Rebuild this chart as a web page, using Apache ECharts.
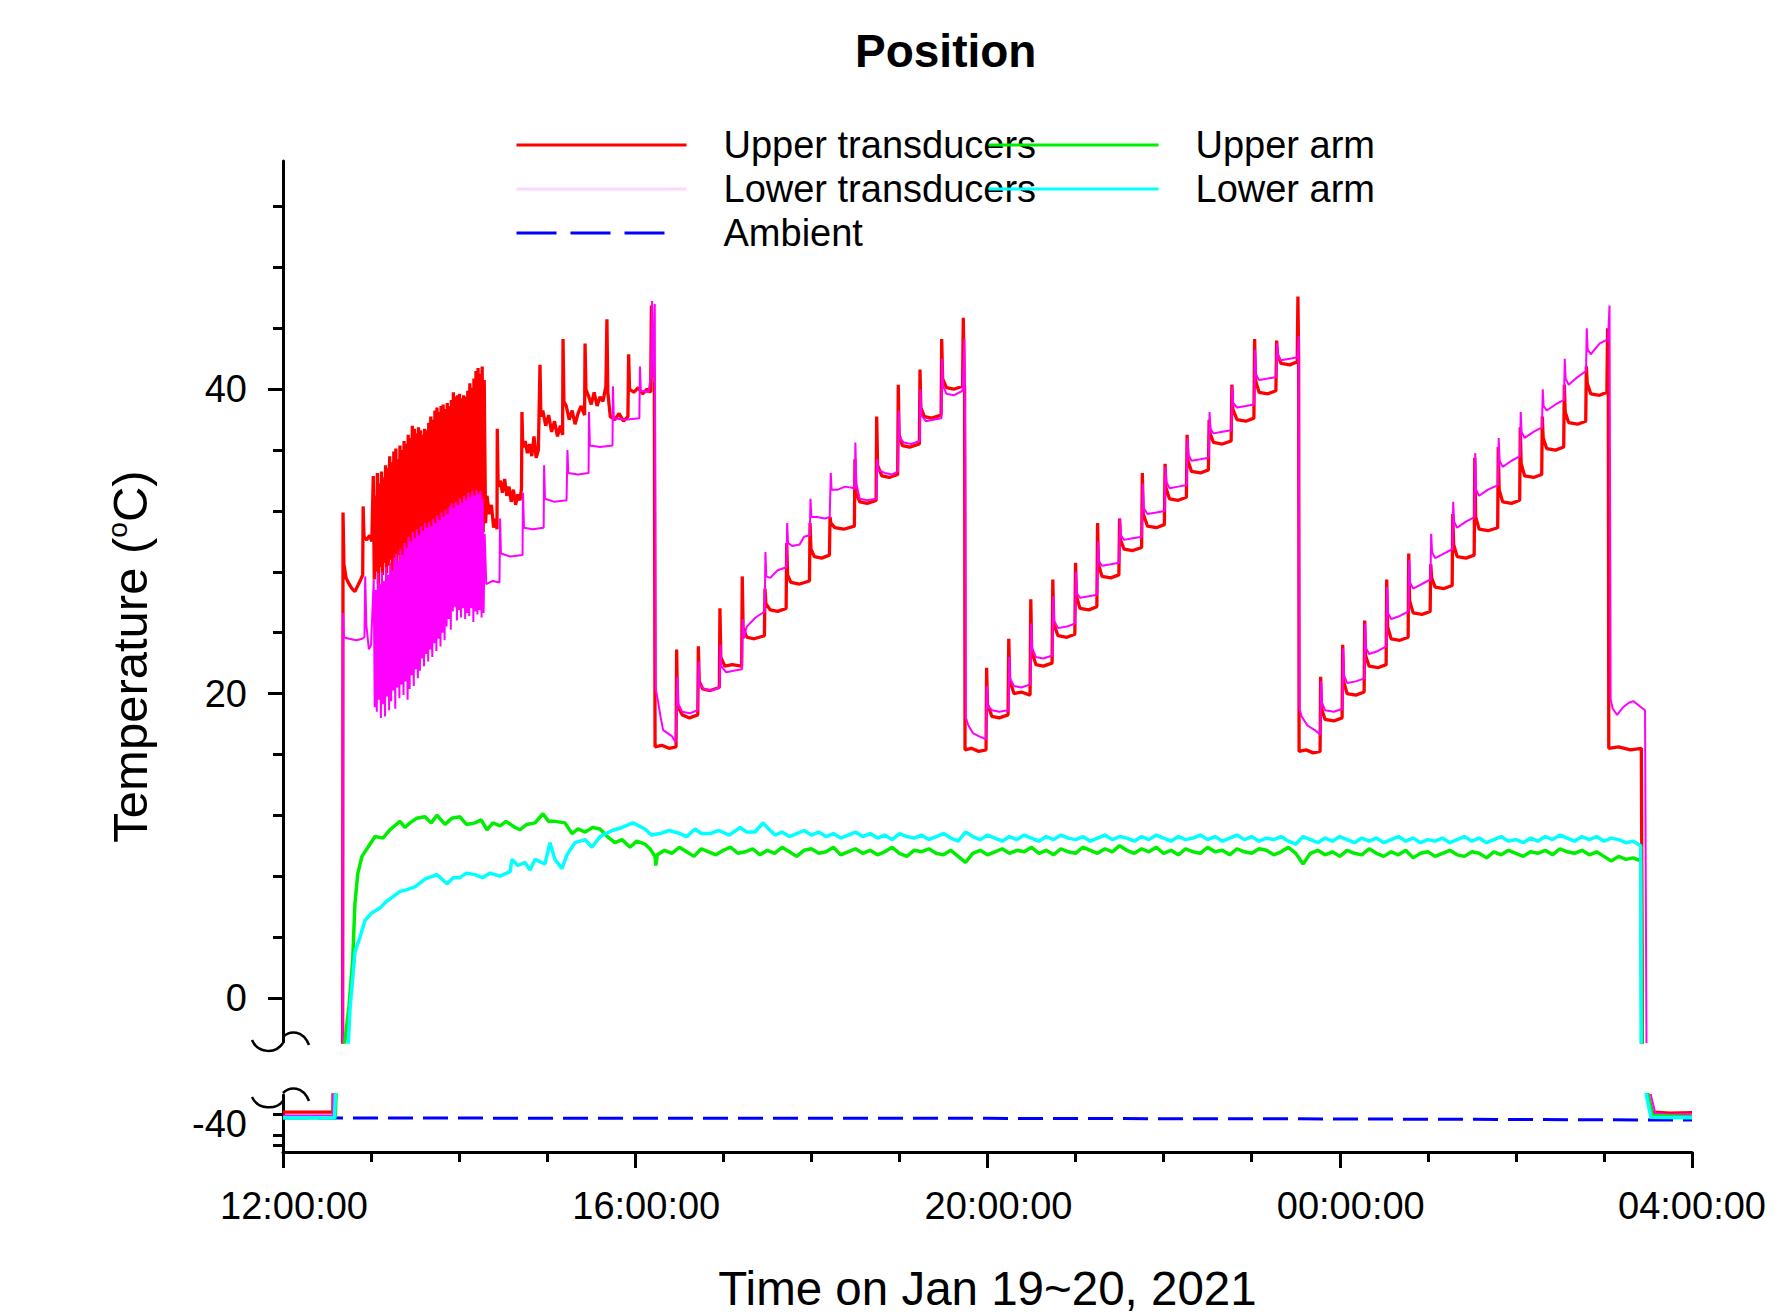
<!DOCTYPE html>
<html>
<head>
<meta charset="utf-8">
<script src="https://cdn.jsdelivr.net/npm/echarts@6/dist/echarts.min.js"></script>
<style>
  html, body { margin: 0; padding: 0; background: #fff; }
  #chart { width: 1775px; height: 1315px; }
</style>
</head>
<body>
<div id="chart"></div>
<script>
(function() {
  // time is in minutes after 12:00 on Jan 19
  var xTickLabels = ['12:00:00', '16:00:00', '20:00:00', '00:00:00', '04:00:00'];
  var upperMajorTicks = [0, 20, 40];
  var upperMinorTicks = [4, 8, 12, 16, 24, 28, 32, 36, 44, 48, 52];
  var lowerLabelTicks = [-40];
  var lowerMinorTicks = [-38.4, -42, -43.8];

  // --- Upper transducers ---
  var upperTransStart = [[0,-38.0],[20,-38.0],[34,-38.0],[34.5,-10],[40.6,-10],[40.9,31.9],[41.5,28.5],[43,27.6],[45,27.2],[47,26.9],[49,26.7],[51,27.1],[53,27.5],[54.3,27.8],[54.6,32.3],[55.2,30.3],[57,30.1],[59,30.4],[60.5,30.0]];
  var upperTransBand = [[61.5,34.3],[62.2,27.5],[62.9,33.0],[63.6,28.0],[64.3,34.5],[65,27.2],[65.7,33.8],[66.4,28.3],[67.1,34.6],[67.8,27.8],[68.5,34.2],[69.2,28.6],[69.9,35.0],[70.6,27.9],[71.3,34.8],[72,28.4],[72.7,35.6],[73.4,28.8],[74.1,35.2],[74.8,27.4],[75.5,35.9],[76.2,28.9],[76.9,36.1],[77.6,28.2],[78.3,35.4],[79,29.1],[79.7,36.3],[80.4,26.4],[81.1,36.0],[81.8,28.7],[82.5,36.6],[83.2,29.3],[83.9,36.4],[84.6,28.5],[85.3,37.0],[86,29.4],[86.7,36.8],[87.4,28.9],[88.1,37.6],[88.8,29.6],[89.5,37.4],[90.2,29.0],[90.9,37.1],[91.6,29.8],[92.3,37.5],[93,29.2],[93.7,37.3],[94.4,30.0],[95.1,37.0],[95.8,29.5],[96.5,37.4],[97.2,30.1],[97.9,37.3],[98.6,27.3],[99.3,37.8],[100,29.8],[100.7,38.2],[101.4,30.3],[102.1,38.0],[102.8,29.7],[103.5,38.6],[104.2,30.4],[104.9,38.8],[105.6,30.0],[106.3,38.5],[107,30.6],[107.7,38.9],[108.4,30.1],[109.1,39.0],[109.8,30.7],[110.5,38.7],[111.2,30.2],[111.9,39.1],[112.6,30.8],[113.3,38.9],[114,30.4],[114.7,39.3],[115.4,31.0],[116.1,39.8],[116.8,30.5],[117.5,39.5],[118.2,31.1],[118.9,39.6],[119.6,30.6],[120.3,39.7],[121,31.2],[121.7,39.4],[122.4,30.7],[123.1,39.6],[123.8,31.3],[124.5,39.5],[125.2,30.8],[125.9,39.9],[126.6,31.4],[127.3,40.4],[128,30.9],[128.7,40.1],[129.4,31.5],[130.1,40.7],[130.8,31.0],[131.5,41.2],[132.2,31.6],[132.9,41.4],[133.6,31.2],[134.3,41.0],[135,31.7],[135.7,41.5],[136.4,30.6],[137.1,40.6]];
  var upperTransCycle1 = [[138,31.2],[139,33.0],[140.5,31.8],[142,32.4],[143.5,30.9],[145,31.5],[145.8,30.8],[146,37.4],[146.6,33.6],[148,34.0],[149.5,33.2],[151,34.1],[152.5,33.0],[154,33.6],[155.5,32.6],[157,33.4],[158.5,32.4],[160,33.1],[161.5,32.7],[162.5,33.5],[162.8,38.5],[163.4,36.2],[165,36.6],[166.5,35.8],[168,36.4],[169.5,35.6],[171,36.9],[172.5,35.5],[174,36.0],[175.1,41.6],[175.7,38.2],[177,38.6],[179,37.6],[181,38.3],[183,37.2],[185,37.9],[187,36.9],[189,37.6],[190.5,37.0],[190.8,43.3],[191.4,39.2],[193,38.9],[195,38.0],[197,38.6],[199,37.7],[201,38.4],[203,38.9],[205.5,38.3],[205.8,43.0],[206.4,40.0],[208,39.6],[210,39.0],[212,39.8],[214,38.9],[216,39.5],[218,39.2],[220,40.2],[220.7,44.6],[221.3,39.8],[223,38.2],[226,38.0],[229,38.4],[232,37.9],[235,38.2],[235.5,42.3],[236.1,40.0],[239,39.8],[242,40.1],[245,39.7],[248,40.0],[250.5,39.8],[251,45.5],[251.6,41.5],[253,40.8]];
  var upperTransCycle2 = [[253.5,16.5],[258,16.6],[263,16.4],[267.8,16.5],[268.2,22.9],[268.8,19.2],[272,18.6],[277,18.4],[282.6,18.6],[283,23.1],[283.6,20.8],[286,20.3],[291,20.2],[297.3,20.4],[297.7,25.6],[298.3,22.4],[301,21.8],[306,21.9],[312.5,21.8],[312.9,27.7],[313.5,24.3],[316,23.7],[321,23.6],[328,23.8],[328.4,26.9],[329,25.9],[332,25.5],[337,25.4],[342.8,25.6],[343.2,29.9],[343.8,27.8],[346,27.3],[352,27.2],[358.7,27.4],[359.1,31.2],[359.7,29.5],[362,29.0],[367,28.9],[372.3,29.1],[372.7,31.6],[373.3,31.2],[376,30.9],[382,30.8],[389.3,31.0],[389.7,35.4],[390.3,33.2],[393,32.6],[398,32.5],[404.1,32.7],[404.5,38.2],[405.1,35.0],[408,34.3],[413,34.2],[418.8,34.4],[419.2,40.3],[419.8,37.0],[422,36.3],[427,36.2],[433.6,36.4],[434,41.3],[434.6,38.8],[437,38.2],[442,38.1],[448.4,38.3],[448.8,43.3],[449.4,40.7],[452,40.1],[457,40.0],[463,40.2],[463.5,44.7],[464.1,40.5],[464.4,40.1]];
  var upperTransCycle3 = [[464.7,16.3],[469,16.4],[474,16.2],[479,16.3],[479.4,21.7],[480,19.3],[483,18.5],[488,18.4],[494,18.6],[494.5,23.6],[495.1,20.9],[498,20.0],[503,20.1],[509,19.9],[509.5,26.2],[510.1,22.8],[513,21.9],[518,21.8],[524,22.0],[524.5,27.5],[525.1,24.6],[528,23.8],[534,23.7],[539.5,23.9],[540,28.6],[540.6,26.4],[543,25.6],[549,25.5],[554.5,25.7],[555,31.2],[555.6,28.5],[558,27.7],[564,27.6],[569.5,27.8],[570,31.5],[570.6,30.1],[573,29.5],[579,29.4],[585,29.6],[585.5,34.5],[586.1,31.8],[589,31.0],[595,30.9],[600.5,31.1],[601,35.1],[601.6,33.5],[604,32.8],[610,32.7],[615.5,32.9],[616,37.0],[616.6,35.3],[619,34.6],[625,34.5],[630.5,34.7],[631,38.0],[631.6,37.1],[634,36.5],[640,36.4],[646,36.6],[646.5,40.3],[647.1,38.7],[650,38.0],[656,37.9],[661.5,38.1],[662,43.3],[662.6,40.6],[665,39.8],[671,39.7],[676.5,39.9],[677,43.2],[677.6,42.3],[680,41.7],[686,41.6],[691,41.8],[691.5,46.1],[692,42.0]];
  var upperTransCycle4 = [[692.3,16.2],[697,16.3],[702,16.1],[706.6,16.2],[707,21.1],[707.6,19.0],[710,18.3],[716,18.2],[721.6,18.4],[722,23.2],[722.6,20.8],[725,20.0],[731,19.9],[736.6,20.1],[737,24.8],[737.6,22.5],[740,21.8],[746,21.7],[751.6,21.9],[752,27.5],[752.6,24.4],[755,23.6],[761,23.5],[766.6,23.7],[767,29.2],[767.6,26.1],[770,25.3],[776,25.2],[781.6,25.4],[782,28.5],[782.6,27.6],[785,27.0],[791,26.9],[796.6,27.1],[797,31.8],[797.6,29.8],[800,29.0],[806,28.9],[811.6,29.1],[812,35.5],[812.6,31.6],[815,30.8],[821,30.7],[827.6,30.9],[828,36.2],[828.6,33.4],[831,32.6],[837,32.5],[842.6,32.7],[843,37.5],[843.6,35.1],[846,34.3],[852,34.2],[857.6,34.4],[858,38.2],[858.6,36.8],[861,36.1],[867,36.0],[872.6,36.2],[873,40.3],[873.6,38.5],[876,37.8],[882,37.7],[887.6,37.9],[888,41.5],[888.6,40.4],[891,39.7],[897,39.6],[902,39.8],[902.5,44.0],[903,39.5],[903.3,16.4],[910,16.5],[918,16.3],[925.5,16.4],[926.5,-10],[929.5,-34.5],[933,-38.0],[945,-38.2],[960,-38.1]];

  // --- Lower transducers ---
  var lowerTransStart = [[0,-38.6],[20,-38.6],[34,-38.6],[34.5,-10],[40.6,-10],[40.9,25.3],[41.5,23.7],[45,23.6],[50,23.5],[54,23.6],[55.5,23.7],[56,27.7],[56.8,24.5],[58.5,22.9],[60,23.2]];
  var lowerTransBand = [[61.8,27.5],[62.5,19.1],[63.2,26.8],[63.9,18.8],[64.6,27.9],[65.3,19.6],[66,27.2],[66.7,18.4],[67.4,28.0],[68.1,19.3],[68.8,27.4],[69.5,18.5],[70.2,28.3],[70.9,19.8],[71.6,27.8],[72.3,18.9],[73,28.6],[73.7,19.5],[74.4,28.1],[75.1,20.2],[75.8,28.9],[76.5,19.0],[77.2,29.2],[77.9,20.4],[78.6,28.7],[79.3,19.7],[80,29.5],[80.7,20.6],[81.4,29.1],[82.1,19.9],[82.8,29.9],[83.5,20.8],[84.2,29.6],[84.9,19.6],[85.6,30.3],[86.3,20.3],[87,30.0],[87.7,21.2],[88.4,30.6],[89.1,20.5],[89.8,30.2],[90.5,21.6],[91.2,30.8],[91.9,21.0],[92.6,30.4],[93.3,21.5],[94,31.0],[94.7,22.3],[95.4,30.7],[96.1,21.8],[96.8,31.2],[97.5,22.6],[98.2,30.9],[98.9,22.1],[99.6,31.3],[100.3,22.9],[101,31.0],[101.7,22.4],[102.4,31.5],[103.1,23.3],[103.8,31.2],[104.5,22.8],[105.2,31.7],[105.9,23.6],[106.6,31.4],[107.3,23.1],[108,31.9],[108.7,24.0],[109.4,31.6],[110.1,23.5],[110.8,32.1],[111.5,24.4],[112.2,31.8],[112.9,24.9],[113.6,32.3],[114.3,24.2],[115,32.5],[115.7,25.4],[116.4,32.2],[117.1,25.7],[117.8,32.6],[118.5,24.8],[119.2,32.4],[119.9,25.5],[120.6,32.8],[121.3,25.0],[122,32.5],[122.7,25.6],[123.4,33.0],[124.1,24.9],[124.8,32.7],[125.5,25.3],[126.2,33.2],[126.9,25.1],[127.6,32.9],[128.3,25.6],[129,33.3],[129.7,24.7],[130.4,33.0],[131.1,25.4],[131.8,33.4],[132.5,25.2],[133.2,33.1],[133.9,25.5],[134.6,33.3],[135.3,25.0],[136,32.8],[136.7,25.3],[137.4,30.5]];
  var lowerTransCycle1 = [[138.5,27.2],[143,27.4],[147.5,27.3],[147.9,31.5],[148.5,29.2],[155,29.0],[163.2,29.1],[163.5,33.2],[164.2,30.9],[170,30.8],[177.6,30.9],[177.9,35.0],[178.5,32.8],[185,32.6],[193.2,32.7],[193.8,36.0],[194.4,34.5],[201,34.4],[208.2,34.5],[208.5,38.5],[209.1,36.3],[216,36.2],[224.5,36.3],[224.8,40.2],[225.4,38.1],[233,38.0],[242.8,38.1],[243.2,41.5],[243.8,39.9],[249,39.8],[250.8,41.0],[251.5,45.8],[252.2,42.3],[252.8,40.5],[253.3,45.6]];
  var lowerTransCycle2 = [[254,20.3],[255.5,19.5],[257,18.6],[259,17.6],[262,17.4],[265,17.2],[267.5,16.8],[268.8,21.1],[269.5,19.3],[272,18.8],[277,18.7],[282.6,18.9],[283.2,22.1],[283.8,20.6],[287,20.3],[292,20.2],[297.5,20.4],[298,23.2],[298.6,21.8],[302,21.4],[307,21.5],[312.7,21.6],[313.2,24.9],[313.8,23.6],[316,24.4],[322,25.0],[328.2,25.4],[328.7,29.3],[329.3,27.7],[332,27.6],[337,28.1],[343,28.3],[343.5,31.2],[344.1,29.9],[347,29.7],[352,29.8],[355,30.3],[358.9,30.4],[359.4,32.8],[360,31.6],[364,31.6],[369,31.5],[372.5,31.6],[373.2,34.5],[373.8,33.4],[378,33.4],[383,33.6],[389.5,33.5],[390,36.5],[390.6,33.8],[393,32.8],[398,32.7],[404.3,32.8],[404.8,35.4],[405.4,34.7],[410,34.5],[415,34.4],[419,34.6],[419.5,38.6],[420.1,36.8],[423,36.5],[428,36.4],[433.8,36.6],[434.3,40.0],[434.9,38.3],[438,37.9],[443,38.0],[448.6,38.1],[449.1,42.0],[449.7,40.2],[452,39.7],[457,39.6],[463,39.9],[464.3,43.3],[464.9,35.0],[465.3,18.4],[467,17.9],[470,17.4],[474,17.2],[479,17.0]];
  var lowerTransCycle3 = [[479.6,20.5],[480.2,19.2],[483,18.9],[488,18.8],[494.3,18.9],[494.8,22.4],[495.4,21.0],[498,20.5],[503,20.4],[509.2,20.6],[509.8,24.6],[510.4,23.0],[513,22.4],[518,22.3],[524.2,22.5],[524.8,26.4],[525.4,24.8],[528,24.3],[534,24.4],[539.7,24.6],[540.3,28.0],[540.9,26.6],[543,26.3],[549,26.4],[554.7,26.5],[555.3,30.0],[555.9,28.7],[558,28.4],[564,28.5],[569.7,28.6],[570.3,31.5],[570.9,30.4],[573,30.1],[579,30.2],[585.2,30.3],[585.8,33.8],[586.4,32.2],[589,31.8],[595,31.9],[600.7,32.0],[601.3,34.9],[601.9,33.9],[604,33.5],[610,33.6],[615.7,33.7],[616.3,36.8],[616.9,35.7],[619,35.3],[625,35.4],[630.7,35.5],[631.3,38.5],[631.9,37.4],[634,37.1],[640,37.2],[646.2,37.3],[646.8,40.2],[647.4,39.1],[650,38.8],[656,38.9],[661.7,39.0],[662.3,42.6],[662.9,41.0],[665,40.6],[671,40.7],[676.7,40.8],[677.3,43.0],[677.9,42.2],[680,41.9],[686,42.0],[691.2,42.1],[692,43.5],[692.6,19.0],[694,18.5],[698,17.9],[703,17.6],[706.7,17.3]];
  var lowerTransCycle4 = [[707.3,20.8],[707.9,19.4],[710,18.9],[716,18.8],[721.8,19.0],[722.3,23.0],[722.9,21.2],[725,20.7],[731,20.8],[736.8,21.0],[737.3,24.6],[737.9,23.0],[740,22.6],[746,22.8],[751.8,23.1],[752.3,27.0],[752.9,25.3],[755,24.9],[761,25.1],[766.8,25.4],[767.3,28.8],[767.9,27.3],[770,26.9],[776,27.2],[781.8,27.5],[782.3,30.5],[782.9,29.3],[785,28.9],[791,29.2],[796.8,29.5],[797.3,32.6],[797.9,31.3],[800,30.9],[806,31.3],[811.8,31.6],[812.3,35.8],[812.9,33.4],[815,33.0],[821,33.4],[827.8,33.7],[828.3,36.8],[828.9,35.3],[831,34.9],[837,35.3],[842.8,35.6],[843.3,38.5],[843.9,37.2],[846,36.8],[852,37.2],[857.8,37.5],[858.3,40.0],[858.9,38.9],[861,38.6],[867,39.0],[872.8,39.3],[873.3,42.0],[873.9,40.7],[876,40.3],[882,40.8],[887.8,41.2],[888.3,44.0],[888.9,42.6],[891,42.3],[897,43.0],[902.8,43.3],[903.8,45.5],[904.6,19.6],[906,19.0],[909,18.6],[913,19.1],[917,19.4],[920,19.5],[924,19.2],[928,18.9],[929.3,-10],[931.5,-34.5],[935,-38.2],[945,-38.4],[960,-38.3]];

  // --- Ambient ---
  var ambientData = [[0,-39.0],[240,-39.1],[480,-39.1],[720,-39.2],[960,-39.4]];

  // --- Upper arm ---
  var upperArmEarly = [[0,-39.0],[35.5,-39.0],[36.5,-33],[42,-3.0],[45,-0.5],[47.5,2.5],[49,6.2],[51,8.2],[53.8,9.3],[57.9,9.9],[62.7,10.6],[68.1,10.5],[72.9,11.05],[76,11.3],[79.7,11.6],[83,11.2],[86.5,11.5],[91,11.8],[96.7,11.9],[101,11.5],[104.9,12.0],[110.4,11.4],[115,11.8],[120.6,11.9],[125,11.4],[130.8,11.5],[135,11.7],[139,11.05],[143,11.5],[147.9,11.3],[152,11.6],[158.1,11.2],[161.5,11.05],[166,11.4],[171.7,11.5],[177.1,12.1],[181,11.6],[185.3,11.6],[192.1,11.5],[196.9,10.8],[201,11.1],[205.8,10.9],[211,11.2],[216,11.1],[221,10.6],[226.2,10.2],[231,10.4],[236.4,9.9],[241,10.3],[246.6,10.1],[250,9.8],[253.5,9.3],[254,8.7]];
  var upperArmLateStart = 255;
  var upperArmLate = [9.4,9.7,9.5,9.9,9.6,9.3,9.8,9.6,9.4,9.7,
    9.9,9.5,9.6,9.8,9.4,9.7,9.5,9.9,9.6,9.3,
    9.7,9.8,9.5,9.6,9.9,9.4,9.6,9.8,9.5,9.7,
    9.4,9.6,9.9,9.5,9.3,9.7,9.6,9.8,9.5,9.4,
    9.7,9.3,8.9,9.5,9.7,9.4,9.6,9.8,9.5,9.7,
    9.6,9.9,9.5,9.7,9.4,9.8,9.6,9.5,9.9,9.7,
    9.5,9.8,9.6,10.0,9.7,9.5,9.8,9.6,9.9,9.5,
    9.7,9.4,9.8,9.6,9.5,9.9,9.6,9.7,9.4,9.8,
    9.6,9.5,9.8,9.7,9.4,9.6,9.9,9.5,8.8,9.5,
    9.7,9.4,9.6,9.3,9.7,9.5,9.4,9.8,9.5,9.3,
    9.6,9.4,9.7,9.2,9.5,9.6,9.3,9.5,9.7,9.4,
    9.3,9.6,9.5,9.2,9.6,9.4,9.7,9.5,9.3,9.6,
    9.5,9.7,9.4,9.8,9.6,9.5,9.7,9.4,9.6,9.3,
    9.0,9.3,9.1,9.2,9.0];
  var upperArmEnd = [[926.5,-10],[929.5,-34.5],[933,-38.6],[960,-38.8]];

  // --- Lower arm ---
  var lowerArmEarly = [[0,-39.0],[35,-39.0],[36,-33],[44.5,-3],[45.6,-0.8],[49,3.0],[52.5,4.0],[55.9,5.1],[60.7,5.6],[66.1,5.9],[70,6.3],[74.3,6.6],[79.7,7.0],[84,7.1],[89.9,7.3],[96.7,7.8],[104.9,8.1],[111.7,7.5],[116,7.9],[120.6,7.9],[125,8.2],[130.8,8.1],[136,7.9],[141,8.2],[147.9,8.0],[154.7,8.3],[156,9.1],[160,8.7],[164.9,8.9],[168.3,8.4],[171.7,9.1],[178.5,8.8],[181.9,10.2],[185.3,9.1],[190,8.5],[193.5,9.4],[198.9,10.2],[205.8,10.4],[210.5,9.9],[216,10.6],[224.2,11.0],[231,11.2],[238.5,11.5],[246.6,11.1],[251,10.7],[256.9,10.8],[263,11.0],[270.5,10.8],[275,10.6],[280.7,11.1],[285,10.8],[290.9,10.8],[297,11.0],[304,10.7],[311.4,11.2],[316,10.9],[321.6,10.9],[327,11.5],[331,11.1],[335.2,10.7]];
  var lowerArmLateStart = 340;
  var lowerArmLate = [10.9,10.6,10.8,11.0,10.7,10.9,10.6,10.8,10.5,10.7,
    10.9,10.6,10.8,10.5,10.7,10.4,10.8,10.6,10.5,10.7,
    10.4,10.6,10.8,10.5,10.3,10.9,10.6,10.4,10.7,10.5,
    10.3,10.6,10.4,10.7,10.5,10.3,10.6,10.4,10.7,10.5,
    10.4,10.6,10.3,10.5,10.7,10.4,10.6,10.5,10.3,10.6,
    10.4,10.7,10.5,10.3,10.6,10.4,10.5,10.7,10.4,10.6,
    10.3,10.5,10.7,10.4,10.6,10.3,10.5,10.4,10.6,10.3,
    10.1,10.6,10.4,10.2,10.5,10.3,10.6,10.4,10.2,10.5,
    10.3,10.5,10.2,10.4,10.6,10.3,10.5,10.2,10.4,10.3,
    10.5,10.2,10.4,10.6,10.3,10.5,10.2,10.4,10.6,10.3,
    10.4,10.2,10.5,10.3,10.6,10.4,10.7,10.5,10.3,10.6,
    10.4,10.6,10.3,10.5,10.4,10.2,10.3,10.0];
  var lowerArmEnd = [[925.5,-10],[928.5,-34.5],[932,-38.9],[960,-39.0]];

  function withTimes(start, step, values) {
    return values.map(function(v, i) { return [start + step * i, v]; });
  }

  var upperTrans = [].concat(upperTransStart, upperTransBand, upperTransCycle1, upperTransCycle2, upperTransCycle3, upperTransCycle4);
  var lowerTrans = [].concat(lowerTransStart, lowerTransBand, lowerTransCycle1, lowerTransCycle2, lowerTransCycle3, lowerTransCycle4);
  var upperArm = [].concat(upperArmEarly, withTimes(upperArmLateStart, 5, upperArmLate), upperArmEnd);
  var lowerArm = [].concat(lowerArmEarly, withTimes(lowerArmLateStart, 5, lowerArmLate), lowerArmEnd);

  var sansFont = "'Liberation Sans', Arial, sans-serif";

  var seriesDefs = [
    { name: 'Upper transducers', data: upperTrans, color: '#ff0000', width: 3.3, type: 'solid' },
    { name: 'Lower transducers', data: lowerTrans, color: '#ff00ff', width: 2, type: 'solid' },
    { name: 'Ambient', data: ambientData, color: '#0000ff', width: 3, type: [25, 10] },
    { name: 'Upper arm', data: upperArm, color: '#00ee00', width: 3.5, type: 'solid' },
    { name: 'Lower arm', data: lowerArm, color: '#00ffff', width: 3.5, type: 'solid' }
  ];

  var series = [];
  [[0, 0], [1, 2]].forEach(function(ax) {
    seriesDefs.forEach(function(s) {
      series.push({
        name: s.name,
        type: 'line',
        xAxisIndex: ax[0],
        yAxisIndex: ax[1],
        data: s.data,
        symbol: 'none',
        showSymbol: false,
        clip: true,
        silent: true,
        lineStyle: { color: s.color, width: s.width, type: s.type },
        itemStyle: { color: s.color }
      });
    });
  });

  var legendText = { color: '#000', fontSize: 38, fontFamily: sansFont, lineHeight: 44, padding: [0, 0, 0, 32] };
  var tickText = { color: '#000', fontSize: 38, fontFamily: sansFont };

  var chart = echarts.init(document.getElementById('chart'), null, { renderer: 'svg' });

  chart.setOption({
    animation: false,
    backgroundColor: '#fff',
    title: {
      text: 'Position',
      left: 850,
      top: 23,
      textStyle: { color: '#000', fontSize: 46, fontWeight: 'bold', fontFamily: sansFont }
    },
    legend: [
      {
        orient: 'vertical', left: 515, top: 123, padding: 0,
        itemWidth: 170, itemHeight: 14, itemGap: 0,
        itemStyle: { opacity: 0 },
        textStyle: legendText,
        data: [
          { name: 'Upper transducers', lineStyle: { color: '#ff0000', width: 3 } },
          { name: 'Lower transducers', lineStyle: { color: '#ffd6ff', width: 3 } },
          { name: 'Ambient', lineStyle: { color: '#0000ff', width: 3, type: [40, 14, 40, 14, 40, 60] } }
        ]
      },
      {
        orient: 'vertical', left: 987, top: 123, padding: 0,
        itemWidth: 170, itemHeight: 14, itemGap: 0,
        itemStyle: { opacity: 0 },
        textStyle: legendText,
        data: [
          { name: 'Upper arm', lineStyle: { color: '#00ee00', width: 3 } },
          { name: 'Lower arm', lineStyle: { color: '#00ffff', width: 3 } }
        ]
      }
    ],
    grid: [
      { left: 283, width: 1409, top: 161, height: 881, containLabel: false, outerBoundsMode: 'none' },
      { left: 283, width: 1409, top: 1095, height: 57, containLabel: false, outerBoundsMode: 'none' },
      { left: 283, width: 1409, top: 161, height: 991, containLabel: false, outerBoundsMode: 'none' }
    ],
    xAxis: [
      { type: 'value', gridIndex: 0, min: 0, max: 960, show: false },
      {
        type: 'value', gridIndex: 1, min: 0, max: 960, interval: 240,
        name: 'Time on Jan 19~20, 2021',
        nameLocation: 'middle', nameGap: 112,
        nameTextStyle: { color: '#000', fontSize: 47.5, fontFamily: sansFont },
        axisLine: { onZero: false, lineStyle: { color: '#000', width: 3 } },
        axisTick: { length: 16, lineStyle: { color: '#000', width: 3 } },
        minorTick: { show: true, splitNumber: 4, length: 10, lineStyle: { color: '#000', width: 3 } },
        splitLine: { show: false },
        minorSplitLine: { show: false },
        axisLabel: {
          margin: 35, color: '#000', fontSize: 38, fontFamily: sansFont,
          formatter: function(v) {
            var i = Math.round(v / 240);
            return (i === xTickLabels.length - 1 ? '{e|' : '{n|') + xTickLabels[i] + '}';
          },
          rich: {
            n: { color: '#000', fontSize: 38, fontFamily: sansFont, padding: [0, 0, 0, 22] },
            e: { color: '#000', fontSize: 38, fontFamily: sansFont, padding: [0, 0, 0, 0] }
          }
        }
      },
      { type: 'value', gridIndex: 2, min: 0, max: 1, show: false }
    ],
    yAxis: [
      {
        type: 'value', gridIndex: 0, min: -2.9, max: 55,
        axisLine: { show: true, onZero: false, lineStyle: { color: '#000', width: 3 } },
        axisTick: { show: true, customValues: upperMajorTicks, length: 15, lineStyle: { color: '#000', width: 3 } },
        axisLabel: { customValues: upperMajorTicks, margin: 36, color: tickText.color, fontSize: tickText.fontSize, fontFamily: tickText.fontFamily },
        splitLine: { show: false }
      },
      {
        type: 'value', gridIndex: 0, min: -2.9, max: 55, position: 'left',
        axisLine: { show: false },
        axisTick: { show: true, customValues: upperMinorTicks, length: 10, lineStyle: { color: '#000', width: 3 } },
        axisLabel: { show: false },
        splitLine: { show: false }
      },
      {
        type: 'value', gridIndex: 1, min: -45, max: -35,
        axisLine: { show: true, onZero: false, lineStyle: { color: '#000', width: 3 } },
        axisTick: { show: true, customValues: lowerMinorTicks, length: 10, lineStyle: { color: '#000', width: 3 } },
        axisLabel: { customValues: lowerLabelTicks, margin: 36, color: tickText.color, fontSize: tickText.fontSize, fontFamily: tickText.fontFamily },
        splitLine: { show: false }
      },
      {
        type: 'value', gridIndex: 2, min: 0, max: 1,
        name: '{a|Temperature (}{b|o}{a|C)}',
        nameLocation: 'middle', nameGap: 126, nameRotate: 90,
        nameTextStyle: {
          rich: {
            a: { color: '#000', fontSize: 49, fontFamily: sansFont, lineHeight: 54 },
            b: { color: '#000', fontSize: 28, fontFamily: sansFont, lineHeight: 54, verticalAlign: 'top' }
          }
        },
        axisLine: { show: false },
        axisTick: { show: false },
        axisLabel: { show: false },
        splitLine: { show: false }
      }
    ],
    graphic: [
      { type: 'bezierCurve', silent: true, shape: { x1: 252, y1: 1040, cpx1: 258, cpy1: 1054, cpx2: 276, cpy2: 1054, x2: 283, y2: 1043 }, style: { stroke: '#000', lineWidth: 2.5, fill: null } },
      { type: 'bezierCurve', silent: true, shape: { x1: 283, y1: 1037, cpx1: 290, cpy1: 1030, cpx2: 303, cpy2: 1030, x2: 309, y2: 1045 }, style: { stroke: '#000', lineWidth: 2.5, fill: null } },
      { type: 'bezierCurve', silent: true, shape: { x1: 252, y1: 1097, cpx1: 258, cpy1: 1110, cpx2: 276, cpy2: 1110, x2: 283, y2: 1101 }, style: { stroke: '#000', lineWidth: 2.5, fill: null } },
      { type: 'bezierCurve', silent: true, shape: { x1: 283, y1: 1093, cpx1: 290, cpy1: 1086, cpx2: 303, cpy2: 1086, x2: 309, y2: 1101 }, style: { stroke: '#000', lineWidth: 2.5, fill: null } }
    ],
    series: series
  });

  window.addEventListener('resize', function() { chart.resize(); });
})();
</script>
</body>
</html>
